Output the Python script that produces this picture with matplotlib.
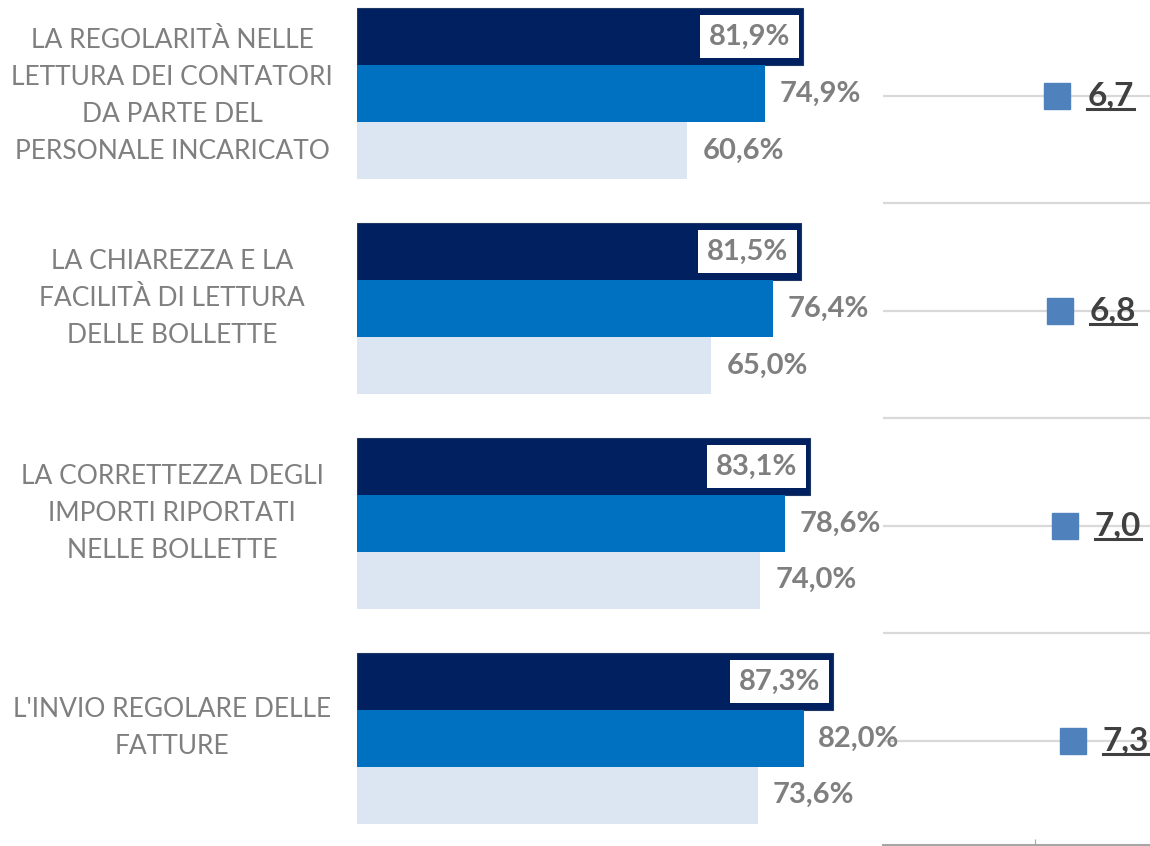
import numpy as np
import matplotlib
matplotlib.use('Agg')
import matplotlib.pyplot as plt
from matplotlib.lines import Line2D

plt.rcParams['font.family'] = ['Lato', 'DejaVu Sans']

# dati
categorie = ['LA REGOLARITÀ NELLE\nLETTURA DEI CONTATORI\nDA PARTE DEL\nPERSONALE INCARICATO',
             'LA CHIAREZZA E LA\nFACILITÀ DI LETTURA\nDELLE BOLLETTE',
             'LA CORRETTEZZA DEGLI\nIMPORTI RIPORTATI\nNELLE BOLLETTE',
             "L'INVIO REGOLARE DELLE\nFATTURE"]
serie_a = [81.9, 81.5, 83.1, 87.3]   # barra scura
serie_b = [74.9, 76.4, 78.6, 82.0]   # barra blu
serie_c = [60.6, 65.0, 74.0, 73.6]   # barra chiara
voti = [6.7, 6.8, 7.0, 7.3]

col_a = '#002060'
col_b = '#0070C0'
col_c = '#DCE6F2'
grigio = '#7F7F7F'

W, H = 1150, 846
fig = plt.figure(figsize=(W / 100, H / 100), dpi=100)

ylim = (3.484, -0.4465)
bot = 1 - 845 / H
hgt = 845 / H

# voti a destra (sotto)
ax2 = fig.add_axes([883 / W, bot, (W - 883) / W, hgt])

# grafico a barre (sopra, sfondo trasparente)
ax = fig.add_axes([357 / W, bot, (883 - 357) / W, hgt])
ax.patch.set_visible(False)
y = np.arange(len(categorie))
h = 0.265
sh = -0.012  # gruppo leggermente più in alto
ax.barh(y - h + sh, serie_a, height=h, color=col_a, edgecolor='#1F3864', linewidth=0.8)
ax.barh(y + sh, serie_b, height=h, color=col_b)
ax.barh(y + h + sh, serie_c, height=h, color=col_c)
ax.set_xlim(0, 526 / 5.45)
ax.set_ylim(*ylim)
ax.axis('off')

for i in range(len(categorie)):
    ax.annotate(f'{serie_a[i]:.1f}%'.replace('.', ','), (serie_a[i], i - h + sh),
                xytext=(-13, 0), textcoords='offset pixels', ha='right', va='center',
                fontsize=21, fontweight='bold', color=grigio, annotation_clip=False,
                bbox=dict(boxstyle='square,pad=0.3', fc='white', ec='none'))
    ax.annotate(f'{serie_b[i]:.1f}%'.replace('.', ','), (serie_b[i], i + sh),
                xytext=(14, 0), textcoords='offset pixels', ha='left', va='center',
                fontsize=21, fontweight='bold', color=grigio, annotation_clip=False)
    ax.annotate(f'{serie_c[i]:.1f}%'.replace('.', ','), (serie_c[i], i + h + sh),
                xytext=(15, 0), textcoords='offset pixels', ha='left', va='center',
                fontsize=21, fontweight='bold', color=grigio, annotation_clip=False)
    # etichette categorie
    off = 0 if categorie[i].count('\n') >= 3 else -0.06
    ax.text((172 - 357) / 526, i + off, categorie[i], transform=ax.get_yaxis_transform(),
            ha='center', va='center', fontsize=19, color=grigio, linespacing=1.6,
            multialignment='center')

ax2.set_xlim(0, 267 / 26)
ax2.set_ylim(*ylim)
ax2.set_yticks(np.arange(0, 3.5, 0.5))
ax2.yaxis.grid(True, color='#D9D9D9', linewidth=1.6)
ax2.tick_params(axis='y', length=0, labelleft=False)
ax2.set_xticks([5.85])
ax2.tick_params(axis='x', direction='in', length=4, color='#A6A6A6', labelbottom=False)
for s in ['top', 'right', 'left']:
    ax2.spines[s].set_visible(False)
ax2.spines['bottom'].set_color('#A6A6A6')
ax2.spines['bottom'].set_linewidth(1.5)
ax2.plot(voti, y, 's', color='#4F81BD', markersize=19.4, clip_on=False, zorder=3)

testi = []
for i, v in enumerate(voti):
    t = ax2.annotate(f'{v:.1f}'.replace('.', ','), (v, i), xytext=(30, 0),
                     textcoords='offset pixels', ha='left', va='center',
                     fontsize=24, fontweight='bold', color='#404040',
                     annotation_clip=False)
    testi.append(t)

# sottolineatura
fig.canvas.draw()
r = fig.canvas.get_renderer()
for t in testi:
    bb = t.get_window_extent(r)
    yl = bb.y0 + 1
    fig.add_artist(Line2D([bb.x0 / W, bb.x1 / W], [yl / H, yl / H],
                          transform=fig.transFigure, color='#404040', linewidth=2.2))

fig.savefig('out.png', dpi=100)
